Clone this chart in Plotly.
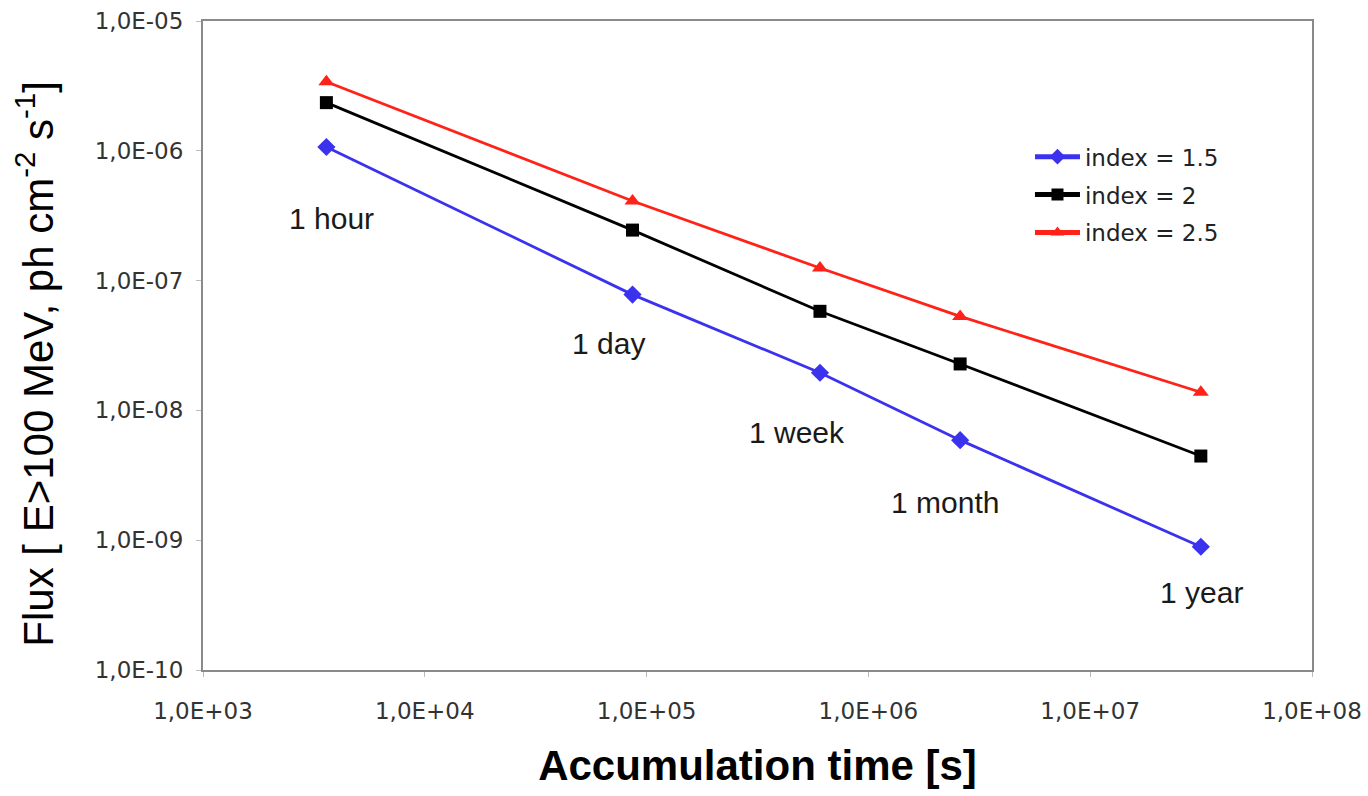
import math
import plotly.graph_objects as go

# Accumulation times (s): 1 hour, 1 day, 1 week, 1 month, 1 year
times = [3600, 86400, 604800, 2592000, 31536000]
time_labels = ["1 hour", "1 day", "1 week", "1 month", "1 year"]

# Sensitivity flux (E>100 MeV, ph cm^-2 s^-1) per spectral index
flux_idx_15 = [1.07e-6, 7.8e-8, 1.95e-8, 5.9e-9, 8.9e-10]
flux_idx_20 = [2.35e-6, 2.45e-7, 5.8e-8, 2.28e-8, 4.45e-9]
flux_idx_25 = [3.4e-6, 4.1e-7, 1.25e-7, 5.3e-8, 1.38e-8]

# Positions of the period labels (data units)
label_x = [3780, 67000, 476000, 2210000, 31600000]
label_y = [3.0e-7, 3.27e-8, 6.8e-9, 1.96e-9, 3.98e-10]

x_tickvals = [1e3, 1e4, 1e5, 1e6, 1e7, 1e8]
x_ticktext = ["1,0E+03", "1,0E+04", "1,0E+05", "1,0E+06", "1,0E+07", "1,0E+08"]
y_tickvals = [1e-10, 1e-9, 1e-8, 1e-7, 1e-6, 1e-5]
y_ticktext = ["1,0E-10", "1,0E-09", "1,0E-08", "1,0E-07", "1,0E-06", "1,0E-05"]

series = [
    ("index = 1.5", flux_idx_15, "#3b32ee", "diamond", 14),
    ("index = 2", flux_idx_20, "#000000", "square", 13),
    ("index = 2.5", flux_idx_25, "#ff2218", "triangle-up", 14),
]

fig = go.Figure()
for name, ys, color, symbol, size in series:
    fig.add_trace(go.Scatter(
        x=times, y=ys, name=name, legendgroup=name, mode="lines+markers",
        line=dict(color=color, width=2.8),
        marker=dict(symbol=symbol, size=size, color=color),
    ))

# log axes: annotation positions are given as log10 values
for txt, lx, ly in zip(time_labels, label_x, label_y):
    fig.add_annotation(
        x=math.log10(lx), y=math.log10(ly), xref="x", yref="y",
        text=txt, showarrow=False,
        font=dict(family="Liberation Sans, Arial", size=30, color="#1a1a1a"),
    )

# vertical axis title, placed left of the tick labels
fig.add_annotation(
    x=-0.1515, y=0.472, xref="paper", yref="paper", textangle=-90,
    xanchor="center", yanchor="middle",
    text="Flux [ E>100 MeV, ph cm<sup>-2</sup> s<sup>-1</sup>]", showarrow=False,
    font=dict(family="Liberation Sans, Arial", size=42, color="#000000"),
)

axis_common = dict(
    type="log", showgrid=False, zeroline=False, automargin=False,
    showline=True, linecolor="#8a8a8a", linewidth=2, mirror=True,
    ticks="outside", ticklen=5, tickcolor="#bbbbbb", tickwidth=1,
    tickfont=dict(family="DejaVu Sans, Verdana", size=23, color="#333333"),
)

fig.update_xaxes(
    **axis_common, range=[3, 8], tickvals=x_tickvals, ticktext=x_ticktext,
    ticklabelstandoff=14,
    title=dict(text="<b>Accumulation time [s]</b>", standoff=28,
               font=dict(family="Liberation Sans, Arial", size=42, color="#000000")),
)
fig.update_yaxes(
    **axis_common, range=[-10, -5], tickvals=y_tickvals, ticktext=y_ticktext,
    ticklabelstandoff=8,
)

fig.update_layout(
    width=1368, height=796,
    margin=dict(l=203, r=56, t=21, b=126),
    paper_bgcolor="white", plot_bgcolor="white",
    legend=dict(
        x=0.7457, y=0.824, xanchor="left", yanchor="top",
        font=dict(family="DejaVu Sans, Verdana", size=23, color="#222222"),
        bgcolor="rgba(0,0,0,0)", tracegroupgap=5, itemsizing="constant",
        itemwidth=45,
    ),
    showlegend=True,
)

fig.write_html("out.html")
